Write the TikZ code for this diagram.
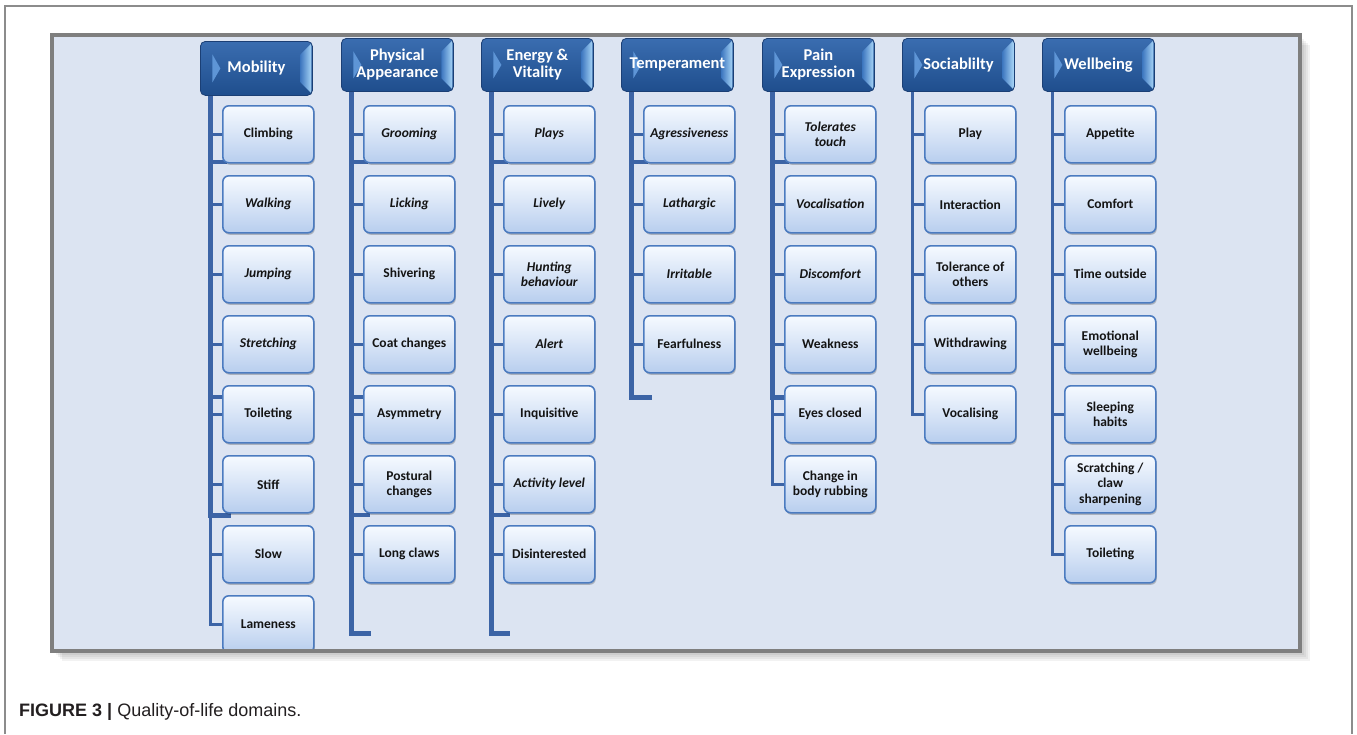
\documentclass[tikz,border=0pt]{standalone}
\usepackage{fontspec}
\newfontfamily\carlito{Carlito}
\newfontfamily\libsans{Liberation Sans}
\usetikzlibrary{shadows}
\definecolor{panelfill}{HTML}{DCE4F2}
\definecolor{panelborder}{HTML}{7F7F7F}
\definecolor{framecol}{HTML}{8C8C8C}
\definecolor{lncol}{HTML}{3C64A6}
\definecolor{hdtop}{HTML}{3A6DB0}
\definecolor{hdbot}{HTML}{1F4E8D}
\definecolor{hdedge}{HTML}{1B3F75}
\definecolor{hdtri}{HTML}{5E95D6}
\definecolor{hdbevA}{HTML}{3F78C0}
\definecolor{hdbevB}{HTML}{A5D3F6}
\definecolor{leaftop}{HTML}{F6FAFF}
\definecolor{leafbot}{HTML}{B8CEEE}
\definecolor{leafedge}{HTML}{4B7BC0}
\definecolor{txtcol}{HTML}{141414}
\definecolor{capcol}{HTML}{231F20}
\newcommand{\lf}[5]{\node[#5, anchor=north west] (#1) at (#2+22, 105+70*#3) {#4};}
\newcommand{\tk}[2]{\draw[thinln] (#1.west) -- (#1.west -| #2);}
\begin{document}
\begin{tikzpicture}[x=1pt,y=-1pt,
  hdr/.style={rounded corners=5pt, minimum width=112pt, minimum height=53pt, inner sep=0pt,
    top color=hdtop, bottom color=hdbot, draw=hdedge, line width=0.8pt, text=white,
    font=\carlito\bfseries\fontsize{16.5}{17}\selectfont, align=center,
    path picture={
      \fill[hdtri, sharp corners] ([xshift=12pt,yshift=-13pt]path picture bounding box.north west)
        -- ([xshift=20pt]path picture bounding box.west)
        -- ([xshift=12pt,yshift=13pt]path picture bounding box.south west) -- cycle;
      \shade[sharp corners, left color=hdbevA, right color=hdbevB]
        ([xshift=-1pt,yshift=-2pt]path picture bounding box.north east)
        -- ([xshift=-12pt,yshift=-13pt]path picture bounding box.north east)
        -- ([xshift=-12pt,yshift=13pt]path picture bounding box.south east)
        -- ([xshift=-1pt,yshift=2pt]path picture bounding box.south east) -- cycle;
    }},
  leaf/.style={rounded corners=6pt, minimum width=91pt, minimum height=57pt, inner sep=1pt,
    top color=leaftop, bottom color=leafbot, draw=leafedge, line width=1.6pt, text=txtcol,
    font=\carlito\bfseries\fontsize{13.5}{15.5}\selectfont, align=center,
    drop shadow={shadow xshift=1pt, shadow yshift=-2pt, fill=black, opacity=0.22}},
  leafi/.style={leaf, font=\carlito\bfseries\itshape\fontsize{13.5}{15.5}\selectfont},
  thickln/.style={draw=lncol, line width=5pt, line join=miter},
  stubln/.style={draw=lncol, line width=4pt},
  thinln/.style={draw=lncol, line width=2.5pt, line join=miter}
]
\useasboundingbox (0,0) rectangle (1357,734);
\fill[white] (0,0) rectangle (1357,734);
% outer frame
\draw[framecol, line width=1.2pt] (5,734) -- (5,6) -- (1352,6) -- (1352,734);
% panel shadow
\foreach \s in {2,4,6,8,10}{
  \fill[black, opacity=0.05] (52+\s,35+\s) rectangle (1300+\s,651+\s);
}
\fill[panelfill] (52,35) rectangle (1300,651);
\begin{scope}
\clip (54,37) rectangle (1298,649);
% line coordinates
\coordinate (L1) at (210.5,0);
\coordinate (L2) at (351.5,0);
\coordinate (L3) at (491.5,0);
\coordinate (L4) at (631.5,0);
\coordinate (L5) at (772.5,0);
\coordinate (L6) at (912.5,0);
\coordinate (L7) at (1052.5,0);
% headers
\node[hdr, minimum height=54pt, anchor=north west] (h1) at (200,41) {Mobility};
\node[hdr, anchor=north west] (h2) at (341,38) {Physical\\Appearance};
\node[hdr, anchor=north west] (h3) at (481,38) {Energy \&\\Vitality};
\node[hdr, anchor=north west] (h4) at (621,38) {Temperament};
\node[hdr, anchor=north west] (h5) at (762,38) {Pain\\Expression};
\node[hdr, anchor=north west] (h6) at (902,38) {Sociablilty};
\node[hdr, anchor=north west] (h7) at (1042,38) {Wellbeing};
% vertical lines (drawn before leaves)
\coordinate (e1) at (210.5,515);
\coordinate (e2) at (351.5,633);
\coordinate (e3) at (491.5,633);
\coordinate (e4) at (631.5,397);
\coordinate (e5) at (772.5,397);
\draw[thickln] (h1.south -| L1) -- (e1) -- ++(20,0);
\draw[thickln] (h2.south -| L2) -- (e2) -- ++(19,0);
\draw[thickln] (h3.south -| L3) -- (e3) -- ++(18,0);
\draw[thickln] (h4.south -| L4) -- (e4) -- ++(20,0);
\draw[thickln] (h5.south -| L5) -- (e5) -- ++(14,0);
% stubs
\foreach \lx in {210.5,351.5,491.5,631.5,772.5}{
  \draw[stubln] (\lx,162) -- ++(16,0);
}
\draw[stubln] (210.5,397) -- ++(14,0);
\draw[stubln] (351.5,397) -- ++(14,0);
\draw[stubln] (351.5,515) -- ++(18,0);
\draw[stubln] (491.5,515) -- ++(18,0);
% Mobility
\lf{a0}{200}{0}{Climbing}{leaf}
\lf{a1}{200}{1}{Walking}{leafi}
\lf{a2}{200}{2}{Jumping}{leafi}
\lf{a3}{200}{3}{Stretching}{leafi}
\lf{a4}{200}{4}{Toileting}{leaf}
\lf{a5}{200}{5}{Stiff}{leaf}
\lf{a6}{200}{6}{Slow}{leaf}
\lf{a7}{200}{7}{Lameness}{leaf}
% Physical Appearance
\lf{b0}{341}{0}{Grooming}{leafi}
\lf{b1}{341}{1}{Licking}{leafi}
\lf{b2}{341}{2}{Shivering}{leaf}
\lf{b3}{341}{3}{Coat changes}{leaf}
\lf{b4}{341}{4}{Asymmetry}{leaf}
\lf{b5}{341}{5}{Postural\\changes}{leaf}
\lf{b6}{341}{6}{Long claws}{leaf}
% Energy & Vitality
\lf{c0}{481}{0}{Plays}{leafi}
\lf{c1}{481}{1}{Lively}{leafi}
\lf{c2}{481}{2}{Hunting\\behaviour}{leafi}
\lf{c3}{481}{3}{Alert}{leafi}
\lf{c4}{481}{4}{Inquisitive}{leaf}
\lf{c5}{481}{5}{Activity level}{leafi}
\lf{c6}{481}{6}{Disinterested}{leaf}
% Temperament
\lf{d0}{621}{0}{Agressiveness}{leafi}
\lf{d1}{621}{1}{Lathargic}{leafi}
\lf{d2}{621}{2}{Irritable}{leafi}
\lf{d3}{621}{3}{Fearfulness}{leaf}
% Pain Expression
\lf{f0}{762}{0}{Tolerates\\touch}{leafi}
\lf{f1}{762}{1}{Vocalisation}{leafi}
\lf{f2}{762}{2}{Discomfort}{leafi}
\lf{f3}{762}{3}{Weakness}{leaf}
\lf{f4}{762}{4}{Eyes closed}{leaf}
\lf{f5}{762}{5}{Change in\\body rubbing}{leaf}
% Sociability
\lf{g0}{902}{0}{Play}{leaf}
\lf{g1}{902}{1}{Interaction}{leaf}
\lf{g2}{902}{2}{Tolerance of\\others}{leaf}
\lf{g3}{902}{3}{Withdrawing}{leaf}
\lf{g4}{902}{4}{Vocalising}{leaf}
% Wellbeing
\lf{k0}{1042}{0}{Appetite}{leaf}
\lf{k1}{1042}{1}{Comfort}{leaf}
\lf{k2}{1042}{2}{Time outside}{leaf}
\lf{k3}{1042}{3}{Emotional\\wellbeing}{leaf}
\lf{k4}{1042}{4}{Sleeping\\habits}{leaf}
\lf{k5}{1042}{5}{Scratching /\\claw\\sharpening}{leaf}
\lf{k6}{1042}{6}{Toileting}{leaf}
% thin continuations
\draw[thinln] (e1) |- (a7.west);
\draw[thinln] (e5) |- (f5.west);
\draw[thinln] (h6.south -| L6) |- (g4.west);
\draw[thinln] (h7.south -| L7) |- (k6.west);
% ticks
\foreach \n in {a0,a1,a2,a3,a4,a5,a6}{\tk{\n}{L1}}
\foreach \n in {b0,b1,b2,b3,b4,b5,b6}{\tk{\n}{L2}}
\foreach \n in {c0,c1,c2,c3,c4,c5,c6}{\tk{\n}{L3}}
\foreach \n in {d0,d1,d2,d3}{\tk{\n}{L4}}
\foreach \n in {f0,f1,f2,f3,f4}{\tk{\n}{L5}}
\foreach \n in {g0,g1,g2,g3}{\tk{\n}{L6}}
\foreach \n in {k0,k1,k2,k3,k4,k5}{\tk{\n}{L7}}
\end{scope}
\draw[panelborder, line width=4pt] (52,35) rectangle (1300,651);
% caption
\node[anchor=base west, inner sep=0pt, text=capcol, font=\libsans\fontsize{18}{20}\selectfont] (cap) at (19,716) {\textbf{FIGURE 3 |} Quality-of-life domains.};
\end{tikzpicture}
\end{document}
